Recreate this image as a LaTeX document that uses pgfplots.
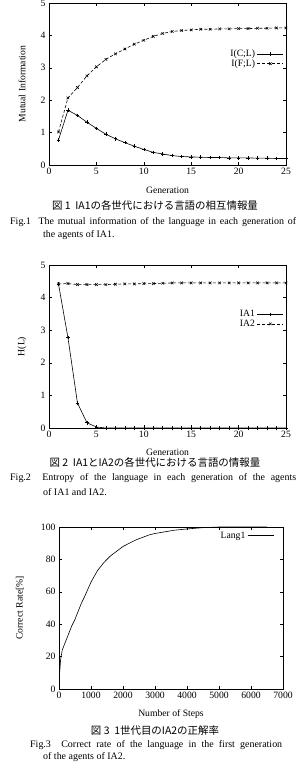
\documentclass[border=0pt]{standalone}
\usepackage{fontspec}
\setmainfont{Liberation Serif}
\newfontfamily\jp{Noto Sans CJK JP}
\usepackage{pgfplots}
\pgfplotsset{compat=1.18}
\pgfplotsset{
  common/.style={
    scale only axis,
    anchor=south west,
    tick align=inside,
    axis line style={line width=0.6pt},
    tick style={line width=0.4pt, black},
    major tick length=3bp,
    font=\fontsize{9.7}{11}\selectfont,
    /pgf/number format/assume math mode=true,
    /pgf/number format/set thousands separator={},
    scaled ticks=false,
    legend plot pos=right,
    legend cell align=right,
    legend style={draw=none, fill=none, font=\fontsize{9.7}{10}\selectfont, row sep=-2.5bp, inner sep=1bp},
    legend image code/.code={\draw[#1, mark repeat=2, mark phase=2] plot coordinates {(0bp,0bp) (13bp,0bp) (26bp,0bp)};},
    every axis plot/.append style={line width=0.6pt, black},
  }
}
\pgfplotstableread{
x cl fl
1 0.77 1.02
2 1.69 2.07
3 1.53 2.39
4 1.32 2.75
5 1.13 3.03
6 0.95 3.26
7 0.81 3.43
8 0.69 3.58
9 0.58 3.73
10 0.48 3.85
11 0.39 3.97
12 0.34 4.06
13 0.29 4.12
14 0.26 4.15
15 0.25 4.17
16 0.24 4.19
17 0.23 4.19
18 0.23 4.20
19 0.22 4.20
20 0.22 4.21
21 0.22 4.21
22 0.21 4.22
23 0.21 4.22
24 0.20 4.23
25 0.20 4.23
}\tabA
\pgfplotstableread{
x ia1 ia2
1 4.42 4.42
2 2.77 4.43
3 0.77 4.40
4 0.16 4.40
5 0.03 4.40
6 0.00 4.40
7 0.00 4.41
8 0.00 4.42
9 0.00 4.42
10 0.00 4.43
11 0.00 4.43
12 0.00 4.44
13 0.00 4.45
14 0.00 4.45
15 0.00 4.45
16 0.00 4.45
17 0.00 4.45
18 0.00 4.45
19 0.00 4.45
20 0.00 4.45
21 0.00 4.45
22 0.00 4.45
23 0.00 4.45
24 0.00 4.45
25 0.00 4.45
}\tabB
\pgfplotstableread{
x y
0 0
20 10
50 18
100 24
200 29
300 34
400 39
500 43
600 48
700 53
800 57
1000 66
1200 73
1400 78
1600 82
1800 85
2000 88
2200 90
2400 92
2600 93.5
2800 95
3000 96
3300 97
3600 98
4000 98.8
4500 99.6
5000 100
5500 100
6000 100
6500 100
}\tabC
\begin{document}
\begin{tikzpicture}
\path[use as bounding box] (0bp,0bp) rectangle (299bp,774bp);
% ---------- plot 1
\begin{axis}[common,
  at={(49bp,609bp)}, width=237bp, height=162bp,
  xmin=0, xmax=25, ymin=0, ymax=5,
  xtick={0,5,...,25}, ytick={0,1,...,5},
  xlabel={Generation}, ylabel={Mutual Information},
  xlabel style={at={(axis description cs:0.5,-0.154)}, anchor=center},
  ylabel style={at={(axis description cs:-0.114,0.5)}, anchor=center},
  legend style={at={(axis description cs:0.995,0.73)}, anchor=north east},
]
\addplot[mark=+, mark size=1.8bp] table[x=x,y=cl] {\tabA};
\addlegendentry{I(C;L)}
\addplot[densely dashed, mark=x, mark size=1.8bp, mark options={solid}] table[x=x,y=fl] {\tabA};
\addlegendentry{I(F;L)}
\end{axis}
% ---------- plot 2
\begin{axis}[common,
  at={(49bp,346bp)}, width=237bp, height=163bp,
  xmin=0, xmax=25, ymin=0, ymax=5,
  xtick={0,5,...,25}, ytick={0,1,...,5},
  xlabel={Generation}, ylabel={H(L)},
  xlabel style={at={(axis description cs:0.5,-0.147)}, anchor=center},
  ylabel style={at={(axis description cs:-0.114,0.5)}, anchor=center},
  legend style={at={(axis description cs:0.995,0.74)}, anchor=north east},
]
\addplot[mark=+, mark size=1.8bp] table[x=x,y=ia1] {\tabB};
\addlegendentry{IA1}
\addplot[densely dashed, mark=x, mark size=1.8bp, mark options={solid}] table[x=x,y=ia2] {\tabB};
\addlegendentry{IA2}
\end{axis}
% ---------- plot 3
\begin{axis}[common,
  at={(59bp,85bp)}, width=224bp, height=162bp,
  xmin=0, xmax=7000, ymin=0, ymax=100,
  xtick={0,1000,...,7000}, ytick={0,20,...,100},
  xlabel={Number of Steps}, ylabel={Correct Rate[\%]},
  xlabel style={at={(axis description cs:0.5,-0.154)}, anchor=center},
  ylabel style={at={(axis description cs:-0.174,0.5)}, anchor=center},
  legend style={at={(axis description cs:0.965,0.99)}, anchor=north east},
]
\addplot[no marks] table[x=x,y=y] {\tabC};
\addlegendentry{Lang1}
\end{axis}
% ---------- captions
\begin{scope}[every node/.style={inner sep=0pt}]
\node[anchor=center, font=\jp\fontsize{10.5}{12}\selectfont] at (155bp,568bp) {図 1 \ IA1の各世代における言語の相互情報量};
\node[anchor=west, font=\fontsize{10}{12}\selectfont] at (10bp,552bp) {\hbox to 286bp{Fig.1 \ The mutual information of the language in each generation of}};
\node[anchor=west, font=\fontsize{10}{12}\selectfont] at (43bp,539bp) {the agents of IA1.};
\node[anchor=center, font=\jp\fontsize{10.5}{12}\selectfont] at (155bp,311bp) {図 2 \ IA1とIA2の各世代における言語の情報量};
\node[anchor=west, font=\fontsize{10}{12}\selectfont] at (10bp,296bp) {\hbox to 286bp{Fig.2 \ Entropy of the language in each generation of the agents}};
\node[anchor=west, font=\fontsize{10}{12}\selectfont] at (43bp,282bp) {of IA1 and IA2.};
\node[anchor=center, font=\jp\fontsize{10.5}{12}\selectfont] at (155bp,43bp) {図 3 \ 1世代目のIA2の正解率};
\node[anchor=west, font=\fontsize{10}{12}\selectfont] at (30bp,29bp) {\hbox to 252bp{Fig.3 \ Correct rate of the language in the first generation}};
\node[anchor=west, font=\fontsize{10}{12}\selectfont] at (43bp,17bp) {of the agents of IA2.};
\end{scope}
\end{tikzpicture}
\end{document}
